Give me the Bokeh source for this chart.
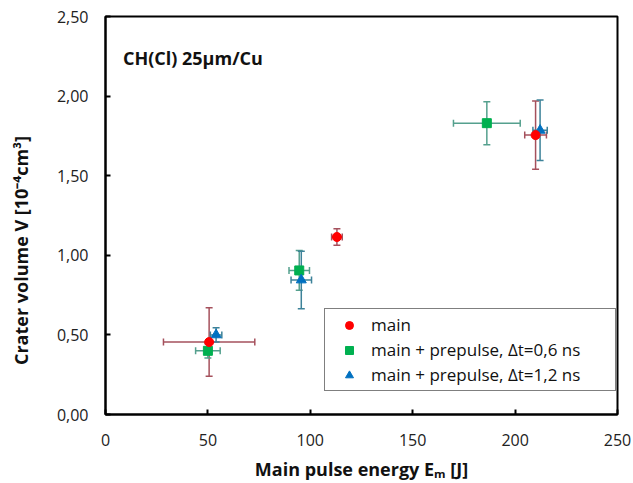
from bokeh.plotting import figure
from bokeh.models import (ColumnDataSource, Whisker, Legend, LegendItem, Label,
                          CustomJSTickFormatter, FixedTicker, Range1d, TeeHead)
from bokeh.embed import file_html
from bokeh.resources import INLINE

# ---- data ----
main_x = [50.6, 113.0, 210.0]
main_y = [0.455, 1.115, 1.755]
main_xerr = [22.3, 2.6, 5.3]
main_yerr = [0.215, 0.052, 0.215]

pre06_x = [50.0, 94.6, 186.2]
pre06_y = [0.40, 0.905, 1.83]
pre06_xerr = [6.0, 5.0, 16.3]
pre06_yerr = [0.045, 0.125, 0.135]

pre12_x = [54.0, 95.6, 212.2]
pre12_y = [0.50, 0.845, 1.785]
pre12_xerr = [2.8, 5.0, 3.5]
pre12_yerr = [0.045, 0.18, 0.19]

x_ticks = [0, 50, 100, 150, 200, 250]
y_ticks = [0.0, 0.5, 1.0, 1.5, 2.0, 2.5]

labels = ["main", "main + prepulse, \u0394t=0,6 ns", "main + prepulse, \u0394t=1,2 ns"]
FONT = "Open Sans"

p = figure(width=633, height=483, output_backend="svg", toolbar_location=None,
           x_range=Range1d(0, 250), y_range=Range1d(0, 2.5),
           min_border_left=105, min_border_right=16, min_border_top=16, min_border_bottom=67)
p.background_fill_color = "white"
p.border_fill_color = "white"
p.outline_line_color = "black"
p.outline_line_width = 2
p.xgrid.visible = False
p.ygrid.visible = False

for ax in (p.xaxis[0], p.yaxis[0]):
    ax.axis_line_color = "black"
    ax.axis_line_width = 2
    ax.major_tick_in = 5
    ax.major_tick_out = 0
    ax.major_tick_line_color = "black"
    ax.major_tick_line_width = 2
    ax.minor_tick_line_color = None
    ax.major_label_text_font = FONT
    ax.major_label_text_font_size = "16px"
    ax.major_label_text_color = "#222222"
    ax.axis_label_text_font = FONT
    ax.axis_label_text_font_size = "18px"
    ax.axis_label_text_font_style = "bold"
    ax.axis_label_text_color = "#111111"

p.xaxis.ticker = FixedTicker(ticks=x_ticks)
p.yaxis.ticker = FixedTicker(ticks=y_ticks)
p.yaxis.formatter = CustomJSTickFormatter(code="return tick.toFixed(2).replace('.', ',');")
p.xaxis.major_label_standoff = 19
p.yaxis.major_label_standoff = 17
p.xaxis.axis_label_standoff = 8
p.yaxis.axis_label_standoff = 21
p.xaxis.axis_label = "Main pulse energy E\u2098 [J]"
p.yaxis.axis_label = "Crater volume V [10\u207b\u2074cm\u00b3]" + "\u00a0" * 15

series = [
    (main_x, main_y, main_xerr, main_yerr, "#ff0000", "#a5505c", "circle", 9),
    (pre06_x, pre06_y, pre06_xerr, pre06_yerr, "#00b050", "#55a08e", "square", 9),
    (pre12_x, pre12_y, pre12_xerr, pre12_yerr, "#0070c0", "#3d8299", "triangle", 10),
]

renderers = {}
sources = []
for xs, ys, xe, ye, col, ecol, mk, sz in series:
    src = ColumnDataSource(dict(
        x=xs, y=ys,
        xl=[a - b for a, b in zip(xs, xe)], xu=[a + b for a, b in zip(xs, xe)],
        yl=[a - b for a, b in zip(ys, ye)], yu=[a + b for a, b in zip(ys, ye)],
    ))
    sources.append(src)
    for dim, lo, up, base in (("height", "yl", "yu", "x"), ("width", "xl", "xu", "y")):
        w = Whisker(source=src, base=base, lower=lo, upper=up, dimension=dim,
                    line_color=ecol, line_width=1.5,
                    lower_head=TeeHead(size=7, line_color=ecol, line_width=1.5),
                    upper_head=TeeHead(size=7, line_color=ecol, line_width=1.5))
        p.add_layout(w)

draw_order = [1, 2, 0]
for i in draw_order:
    xs, ys, xe, ye, col, ecol, mk, sz = series[i]
    r = p.scatter("x", "y", source=sources[i], marker=mk, size=sz,
                  fill_color=col, line_color=col)
    renderers[i] = r

legend = Legend(items=[LegendItem(label=labels[i], renderers=[renderers[i]]) for i in range(3)],
                location=(219, 23), padding=4, spacing=2, label_height=20,
                glyph_width=40, glyph_height=20, label_standoff=2, label_width=240,
                border_line_color="black", border_line_width=1.5,
                background_fill_color="white", background_fill_alpha=1.0,
                label_text_font=FONT, label_text_font_size="17px",
                label_text_color="#111111")
p.add_layout(legend)

p.add_layout(Label(x=8.5, y=2.24, text="CH(Cl) 25\u00b5m/Cu", text_font=FONT,
                   text_font_size="18px", text_font_style="bold", text_color="#111111",
                   text_baseline="middle"))

open("out.html", "w").write(file_html(p, INLINE))
